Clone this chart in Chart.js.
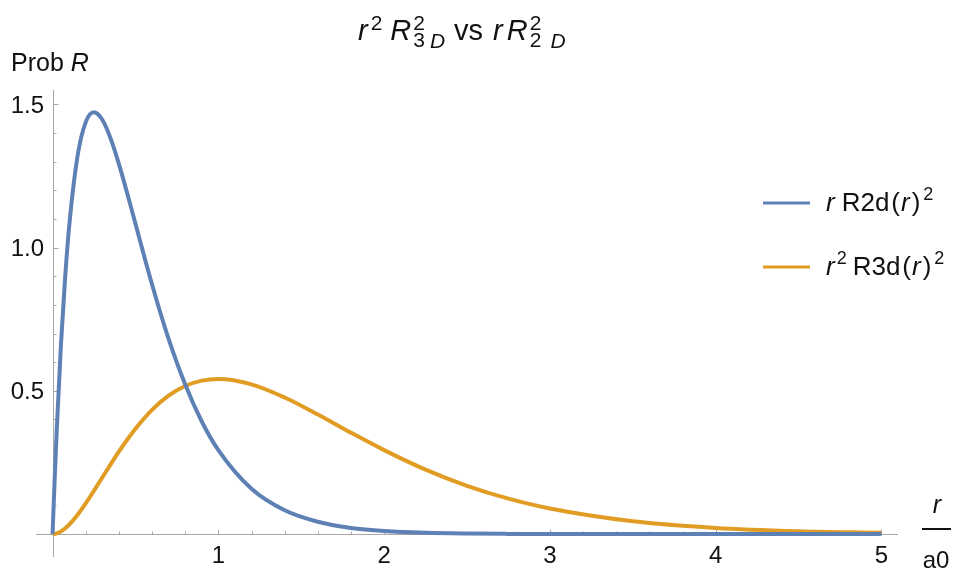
<!DOCTYPE html>
<html><head><meta charset="utf-8">
<script src="https://cdn.jsdelivr.net/npm/chart.js@4.4.1/dist/chart.umd.min.js"></script>
<style>html,body{margin:0;padding:0;background:#fff;overflow:hidden}#wrap{width:968px;height:571px;position:relative}</style>
</head><body><div id="wrap"><canvas id="c" width="968" height="571"></canvas></div>
<script>
// r / a0 sample positions
const rValues = [0, 0.0125, 0.025, 0.05, 0.075, 0.1, 0.15, 0.2, 0.25, 0.3, 0.35, 0.4, 0.45, 0.5, 0.6, 0.7, 0.8, 0.9, 1.0, 1.2, 1.4, 1.6, 1.8, 2.0, 2.25, 2.5, 2.75, 3.0, 3.5, 4.0, 4.5, 5.0];
// r R2d(r)^2
const probR2D = [0, 0.190, 0.362, 0.655, 0.889, 1.073, 1.317, 1.438, 1.472, 1.446, 1.381, 1.292, 1.190, 1.083, 0.871, 0.681, 0.522, 0.393, 0.293, 0.158, 0.083, 0.043, 0.0215, 0.0107, 0.0044, 0.0018, 0.0007, 0.0003, 0.0, 0.0, 0.0, 0.0];
// r^2 R3d(r)^2
const probR3D = [0, 0.0006, 0.0024, 0.0090, 0.0194, 0.0327, 0.0667, 0.1073, 0.1516, 0.1976, 0.2433, 0.2876, 0.3293, 0.3679, 0.4337, 0.4833, 0.5169, 0.5356, 0.5413, 0.5225, 0.4766, 0.4174, 0.3541, 0.2931, 0.2250, 0.1684, 0.1236, 0.0892, 0.0447, 0.0215, 0.0100, 0.0045];
const xTickValues = [1, 2, 3, 4, 5];
const xTickLabels = ['1', '2', '3', '4', '5'];
const yTickValues = [0.5, 1.0, 1.5];
const yTickLabels = ['0.5', '1.0', '1.5'];
const seriesNames = ['r R2d(r)^2', 'r^2 R3d(r)^2'];

const BLUE = '#5E81B5', ORANGE = '#E19C24';
const FAM = '"Liberation Sans", Arial, sans-serif';

function rich(ctx, parts, x, y, align) {
  let w = 0;
  for (const p of parts) {
    ctx.font = (p.i ? 'italic ' : '') + p.s + 'px ' + FAM;
    if (p.adv !== false) w += ctx.measureText(p.t).width + (p.g || 0);
  }
  let cx = align === 'center' ? x - w / 2 : (align === 'right' ? x - w : x);
  for (const p of parts) {
    ctx.font = (p.i ? 'italic ' : '') + p.s + 'px ' + FAM;
    ctx.fillText(p.t, cx, y + (p.dy || 0));
    if (p.adv !== false) cx += ctx.measureText(p.t).width + (p.g || 0);
  }
}

const decor = {
  id: 'decor',
  beforeDatasetsDraw(chart) {
    const { ctx, scales: { x, y } } = chart;
    const x0 = Math.round(x.getPixelForValue(0)) + 0.5;
    const y0 = Math.round(y.getPixelForValue(0)) + 0.5;
    ctx.save();
    ctx.strokeStyle = '#a8a8a8';
    ctx.lineWidth = 1;
    ctx.beginPath();
    ctx.moveTo(x.left, y0); ctx.lineTo(x.right, y0);
    ctx.moveTo(x0, y.top); ctx.lineTo(x0, y.bottom);
    for (let k = 1; k <= 25; k++) {
      const px = Math.round(x.getPixelForValue(k * 0.2)) + 0.5;
      const len = (k % 5 === 0) ? 5 : 3;
      ctx.moveTo(px, y0); ctx.lineTo(px, y0 - len);
    }
    for (let k = 1; k <= 15; k++) {
      const py = Math.round(y.getPixelForValue(k * 0.1)) + 0.5;
      const len = (k % 5 === 0) ? 5 : 3;
      ctx.moveTo(x0, py); ctx.lineTo(x0 + len, py);
    }
    ctx.stroke();
    ctx.fillStyle = '#111';
    ctx.font = '24px ' + FAM;
    ctx.textAlign = 'center';
    xTickValues.forEach((v, i) => ctx.fillText(xTickLabels[i], x.getPixelForValue(v), 563));
    ctx.textAlign = 'right';
    yTickValues.forEach((v, i) => ctx.fillText(yTickLabels[i], 44, y.getPixelForValue(v) + 8.5));
    ctx.textAlign = 'left';
    ctx.restore();
  },
  afterDraw(chart) {
    const { ctx } = chart;
    ctx.save();
    ctx.fillStyle = '#111';
    ctx.textAlign = 'left';
    // title
    rich(ctx, [
      { t: 'r', i: true, s: 29, g: 3 },
      { t: '2', s: 21, dy: -10, g: 8 },
      { t: 'R', i: true, s: 29, g: 2 },
      { t: '2', s: 21, dy: -10, adv: false },
      { t: '3', s: 21, dy: 7, g: 5 },
      { t: 'D', i: true, s: 21, dy: 8, g: 9 },
      { t: 'vs', s: 29, g: 10 },
      { t: 'r', i: true, s: 29, g: 4 },
      { t: 'R', i: true, s: 29, g: 2 },
      { t: '2', s: 21, dy: -10, adv: false },
      { t: '2', s: 21, dy: 7, g: 9 },
      { t: 'D', i: true, s: 21, dy: 8 }
    ], 358, 40, 'left');
    // y label
    rich(ctx, [
      { t: 'Prob', s: 25, g: 7 },
      { t: 'R', i: true, s: 25 }
    ], 11, 71, 'left');
    // x label
    ctx.textAlign = 'center';
    ctx.font = 'italic 25px ' + FAM;
    ctx.fillText('r', 937, 513);
    ctx.font = '24px ' + FAM;
    ctx.fillText('a0', 936, 568);
    ctx.strokeStyle = '#111';
    ctx.lineWidth = 2;
    ctx.beginPath(); ctx.moveTo(922, 529); ctx.lineTo(951, 529); ctx.stroke();
    ctx.textAlign = 'left';
    // legend
    const rows = [
      { c: BLUE, y: 203, parts: [
        { t: 'r', i: true, s: 26, g: 7 },
        { t: 'R2d', s: 26, g: 2 },
        { t: '(', s: 26, g: 1 },
        { t: 'r', i: true, s: 26, g: 2 },
        { t: ')', s: 26, g: 3 },
        { t: '2', s: 18, dy: -11 }
      ] },
      { c: ORANGE, y: 267, parts: [
        { t: 'r', i: true, s: 26, g: 2 },
        { t: '2', s: 18, dy: -11, g: 6 },
        { t: 'R3d', s: 26, g: 2 },
        { t: '(', s: 26, g: 1 },
        { t: 'r', i: true, s: 26, g: 2 },
        { t: ')', s: 26, g: 3 },
        { t: '2', s: 18, dy: -11 }
      ] }
    ];
    rows.forEach((row) => {
      ctx.strokeStyle = row.c;
      ctx.lineWidth = 3;
      ctx.beginPath(); ctx.moveTo(763, row.y); ctx.lineTo(810, row.y); ctx.stroke();
      ctx.fillStyle = '#111';
      rich(ctx, row.parts, 826, row.y + 8, 'left');
    });
    ctx.restore();
  }
};

new Chart(document.getElementById('c'), {
  type: 'line',
  data: {
    datasets: [
      { label: seriesNames[0], data: rValues.map((r, i) => ({ x: r, y: probR2D[i] })), borderColor: BLUE, borderWidth: 4, pointRadius: 0, cubicInterpolationMode: 'monotone', fill: false },
      { label: seriesNames[1], data: rValues.map((r, i) => ({ x: r, y: probR3D[i] })), borderColor: ORANGE, borderWidth: 4, pointRadius: 0, cubicInterpolationMode: 'monotone', fill: false }
    ]
  },
  options: {
    responsive: false,
    animation: false,
    layout: { padding: { left: 36, right: 70, top: 90, bottom: 14 } },
    plugins: { legend: { display: false }, title: { display: false }, tooltip: { enabled: false } },
    scales: {
      x: { type: 'linear', min: -0.1, max: 5.1, display: false },
      y: { type: 'linear', min: -0.08, max: 1.55, display: false }
    }
  },
  plugins: [decor]
});
</script>
</body></html>
